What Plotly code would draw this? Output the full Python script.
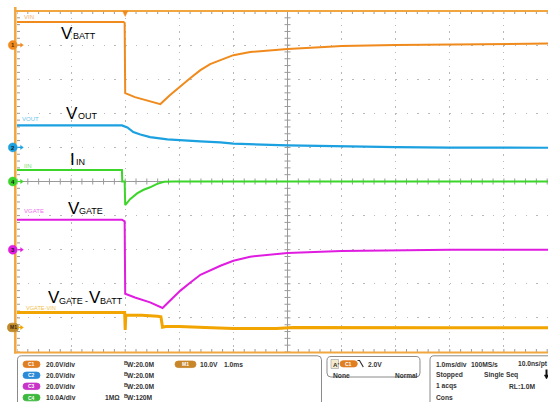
import plotly.graph_objects as go

# ---------------- data read from the capture ----------------
# time in ms relative to the trigger (1.0 ms/div)
t_vbatt = [-2.0, -0.03, -0.01, 0.0, 0.18, 0.41, 0.65, 0.83, 1.02, 1.2, 1.39, 1.57, 1.76, 2.0, 2.31, 2.68, 3.0, 3.6, 4.0, 5.0, 6.0, 7.0, 7.85]
v_vbatt = [13.5, 13.5, 13.0, -28.2, -30.5, -32.6, -34.6, -29.3, -24.0, -19.4, -14.7, -11.1, -8.8, -5.9, -4.1, -2.9, -2.3, -1.2, -0.6, 0.0, 0.4, 0.6, 0.9]

t_vout = [-2.0, -0.06, 0.04, 0.15, 0.28, 0.46, 0.78, 1.02, 1.39, 1.76, 2.0, 3.0, 4.0, 5.0, 6.0, 7.85]
v_vout = [12.9, 12.9, 11.7, 9.0, 7.6, 6.0, 4.7, 4.1, 3.5, 2.9, 2.2, 1.2, 0.6, 0.2, -0.1, -0.2]

t_iin = [-2.0, -0.06, -0.055, -0.01, 0.0, 0.09, 0.22, 0.33, 0.46, 0.59, 0.72, 0.9, 7.85]
i_iin = [3.4, 3.4, 0.0, 0.0, -6.9, -5.2, -3.5, -2.5, -1.7, -0.7, -0.1, 0.0, 0.0]

t_vgate = [-2.0, -0.06, -0.01, 0.0, 0.18, 0.46, 0.69, 0.83, 1.02, 1.2, 1.39, 1.76, 2.0, 2.31, 3.0, 4.0, 5.0, 6.0, 7.85]
v_vgate = [17.6, 17.6, 16.6, -25.8, -28.0, -30.9, -34.2, -29.9, -24.0, -19.4, -14.7, -9.4, -6.5, -4.1, -1.9, -0.8, -0.2, 0.0, 0.0]

t_m1 = [-2.0, -0.01, 0.0, 0.01, 0.03, 0.3, 0.6, 0.66, 0.69, 0.75, 1.0, 1.3, 1.6, 2.0, 2.4, 2.8, 3.1, 4.0, 5.0, 6.0, 7.85]
v_m1 = [4.4, 4.4, -0.7, 3.4, 3.6, 3.6, 3.3, 3.1, 0.1, 0.3, 0.3, 0.2, -0.1, -0.3, -0.35, -0.3, -0.05, 0.0, 0.0, -0.1, -0.1]

# trace labels: list of (main letter, subscript) parts
trace_labels = [[("V", "BATT")], [("V", "OUT")], [("I", "IN")], [("V", "GATE")],
                [("V", "GATE"), ("", "-"), ("V", "BATT")]]
small_labels = ["VIN", "VOUT", "IIN", "VGATE", "VGATE-VIN"]
marker_labels = ["1", "2", "4", "3", "M1"]

# ---------------- geometry / styles ----------------
W, H = 548, 402
L, T, B = 17, 11, 352
PW, PH = W - L, B - T
DIVX = 54.1
DIVY = PH / 10.0
T_LEFT = -2.0
T_RIGHT = T_LEFT + PW / DIVX


def px(x):
    return (x - L) / PW


def py(y):
    return (B - y) / PH


# (time, values, units/div, ground position in divisions, colour, line width)
channels = [
    (t_vbatt, v_vbatt, 20.0, 4.0, "#F08A1C", 2.0),
    (t_vout, v_vout, 20.0, 1.0, "#1BA0E0", 2.2),
    (t_iin, i_iin, 10.0, 0.0, "#3CD62A", 2.0),
    (t_vgate, v_vgate, 20.0, -2.0, "#E01CE0", 2.0),
    (t_m1, v_m1, 10.0, -4.28, "#F2A400", 3.0),
]
light_cols = ["#F2B070", "#6CC4EC", "#7EE070", "#EE70EE", "#F2C24A"]
badge_cols = ["#E08A2A", "#2A9CDC", "#38C030", "#D02CD0", "#C08A2A"]
# per label: baseline, list of x positions (main glyph left, subscript left) per part
label_geo = [
    (39.3, [(60, 72)]),
    (119.3, [(65, 76.5)]),
    (165.7, [(69, 75)]),
    (214.3, [(66.5, 78)]),
    (304.0, [(46.5, 58.3), (None, 83.5), (87.5, 98.8)]),
]
small_pos = [(22, 17, 6), (20, 118.5, 6), (22, 165.5, 6), (22, 211, 6), (23.5, 307.6, 5.6)]

fig = go.Figure()

# graticule: centre lines and minor ticks
gx, gy = [], []
xc = T_LEFT + 5
gx += [xc, xc, None]; gy += [-5, 5, None]
gx += [T_LEFT, T_RIGHT, None]; gy += [0, 0, None]
tlx = 3.0 / DIVX
tly = 3.0 / DIVY
k = 0
while True:
    x = T_LEFT + k * 0.2
    if x > T_RIGHT:
        break
    gx += [x, x, None, x, x, None, x, x, None]
    gy += [5, 5 - tly, None, -5, -5 + tly, None, -tly, tly, None]
    k += 1
for k in range(51):
    y = -5 + k * 0.2
    gx += [T_LEFT, T_LEFT + tlx, None, xc - tlx, xc + tlx, None]
    gy += [y, y, None, y, y, None]
fig.add_trace(go.Scatter(x=gx, y=gy, mode="lines", line=dict(color="#9a9a9a", width=1),
                         hoverinfo="skip", showlegend=False, cliponaxis=False))

layout_axes = {}
for i, (tt, vv, sc, g, col, lw) in enumerate(channels):
    name = "y%d" % (i + 2)
    fig.add_trace(go.Scatter(x=tt, y=vv, yaxis=name, mode="lines",
                             line=dict(color=col, width=lw), hoverinfo="skip",
                             showlegend=False))
    layout_axes["yaxis%d" % (i + 2)] = dict(overlaying="y", range=[(-5 - g) * sc, (5 - g) * sc],
                                            visible=False, fixedrange=True)

shapes = []
ann = []

SANS = "Liberation Sans, Arial, sans-serif"
PF = 6.7  # panel font size


def note(x, y, text, size=PF, color="#333333", bold=True, anchor="left", family=SANS):
    ann.append(dict(x=px(x), y=py(y), xref="paper", yref="paper", text=("<b>%s</b>" % text) if bold else text,
                    showarrow=False, xanchor=anchor, yanchor="middle",
                    font=dict(size=size, color=color, family=family)))


def pill(x0, x1, yc, h, color, line=None):
    r = h / 2.0
    y0, y1 = yc - r, yc + r
    p = ("M {a},{b} L {c},{b} Q {d},{b} {d},{e} Q {d},{f} {c},{f} L {a},{f} Q {g},{f} {g},{e} Q {g},{b} {a},{b} Z"
         .format(a=px(x0 + r), b=py(y0), c=px(x1 - r), d=px(x1), e=py(yc), f=py(y1), g=px(x0)))
    shapes.append(dict(type="path", xref="paper", yref="paper", path=p, fillcolor=color,
                       line=dict(color=line or color, width=0.8)))


def rounded(x0, x1, y0, y1, r, color="#8a8a8a", open_bottom=False, open_right=False):
    parts = []
    if open_bottom:
        parts.append("M %f,%f" % (px(x0), py(y1)))
    else:
        parts.append("M %f,%f" % (px(x0), py(y1 - r)))
    parts.append("L %f,%f" % (px(x0), py(y0 + r)))
    parts.append("Q %f,%f %f,%f" % (px(x0), py(y0), px(x0 + r), py(y0)))
    if open_right:
        parts.append("L %f,%f" % (px(x1), py(y0)))
    else:
        parts.append("L %f,%f" % (px(x1 - r), py(y0)))
        parts.append("Q %f,%f %f,%f" % (px(x1), py(y0), px(x1), py(y0 + r)))
        if open_bottom:
            parts.append("L %f,%f" % (px(x1), py(y1)))
        else:
            parts.append("L %f,%f" % (px(x1), py(y1 - r)))
            parts.append("Q %f,%f %f,%f" % (px(x1), py(y1), px(x1 - r), py(y1)))
            parts.append("L %f,%f" % (px(x0 + r), py(y1)))
            parts.append("Q %f,%f %f,%f Z" % (px(x0), py(y1), px(x0), py(y1 - r)))
    shapes.append(dict(type="path", xref="paper", yref="paper", path=" ".join(parts),
                       line=dict(color=color, width=1)))


# frame borders (orange, selected channel)
BORDER = "#F2A640"
shapes.append(dict(type="line", xref="paper", yref="paper", x0=px(15.3), x1=px(15.3), y0=py(7), y1=py(353.5),
                   line=dict(color=BORDER, width=2.5)))
shapes.append(dict(type="line", xref="paper", yref="paper", x0=px(14), x1=px(552), y0=py(11), y1=py(11),
                   line=dict(color=BORDER, width=2)))
shapes.append(dict(type="line", xref="paper", yref="paper", x0=px(14), x1=px(552), y0=py(352.6), y1=py(352.6),
                   line=dict(color=BORDER, width=2)))
# trigger position marker (t = 0)
shapes.append(dict(type="path", xref="x", yref="paper",
                   path="M %f,%f L %f,%f L %f,%f Z" % (-2.6 / DIVX, py(11), 2.6 / DIVX, py(11), 0, py(16.5)),
                   fillcolor="#F08A1C", line=dict(color="#F08A1C", width=0.5)))

BIG, SUB = 17, 9.0
for i, (tt, vv, sc, g, col, lw) in enumerate(channels):
    yc = B - (g + 5) * DIVY
    if marker_labels[i] == "M1":
        pill(7.5, 18.5, yc, 8.5, badge_cols[i])
        note(13, yc, "M1", size=5, color="#3a2a10", anchor="center")
    else:
        shapes.append(dict(type="circle", xref="paper", yref="paper", x0=px(8.3), x1=px(17.3),
                           y0=py(yc + 4.5), y1=py(yc - 4.5), fillcolor=col, line=dict(color=col, width=0.5)))
        note(12.8, yc + 0.2, marker_labels[i], size=6, color="#5a3000" if i == 0 else "#1a1a1a", anchor="center")
    shapes.append(dict(type="line", xref="paper", yref="paper", x0=px(18), x1=px(21), y0=py(yc), y1=py(yc),
                       line=dict(color=col, width=1.2)))
    shapes.append(dict(type="path", xref="paper", yref="paper",
                       path="M %f,%f L %f,%f L %f,%f Z" % (px(20.5), py(yc - 2.2), px(23.5), py(yc), px(20.5), py(yc + 2.2)),
                       fillcolor=col, line=dict(color=col, width=0.3)))
    base, xs = label_geo[i]
    for (mainx, subx), (mtxt, stxt) in zip(xs, trace_labels[i]):
        if mtxt:
            note(mainx - 1, base - 0.358 * BIG, mtxt, size=BIG, color="#000000", bold=False)
        note(subx - 1, base - 0.358 * SUB, stxt, size=SUB, color="#000000", bold=False)
    sx, sy, ss = small_pos[i]
    note(sx, sy, small_labels[i], size=ss, color=light_cols[i], bold=False)

# ---------------- bottom information panel ----------------
rounded(17.5, 321.5, 355.8, 410, 4, open_bottom=True)
rounded(327, 420, 356.5, 377, 4)
rounded(430, 560, 355.8, 410, 4, open_bottom=True, open_right=True)

rows = [364.3, 375.3, 386.3, 397.6]
ch_names = ["C1", "C2", "C3", "C4"]
ch_badge = ["#E07E22", "#2A8AD8", "#C834C8", "#3CB83C"]
ch_scale = ["20.0V/div", "20.0V/div", "20.0V/div", "10.0A/div"]
ch_bw = ["20.0M", "20.0M", "20.0M", "120M"]
for r, nm, bc, s, bw in zip(rows, ch_names, ch_badge, ch_scale, ch_bw):
    pill(23, 40, r, 6.5, bc)
    note(31.5, r, nm, size=5, color="#ffffff", anchor="center")
    note(43.5, r, s)
    note(121.5, r - 1.6, "B", size=5)
    note(124.5, r + 0.4, "W:" + bw)
note(102.5, rows[3], "1MΩ")
pill(175, 196, rows[0], 6.5, "#C8862A")
note(185.5, rows[0], "M1", size=5, color="#ffffff", anchor="center")
note(198, rows[0], "10.0V")
note(222, rows[0], "1.0ms")

# trigger box
shapes.append(dict(type="rect", xref="paper", yref="paper", x0=px(331), x1=px(338.5), y0=py(359.5), y1=py(368.5),
                   fillcolor="#F4EBCF", line=dict(color="#9a9a9a", width=0.6)))
note(331.2, rows[0], "A'", size=6.2)
pill(340, 357.3, rows[0] - 0.5, 6.2, "#E07E22")
note(348.6, rows[0] - 0.5, "C1", size=5, color="#ffffff", anchor="center")
shapes.append(dict(type="path", xref="paper", yref="paper",
                   path="M %f,%f L %f,%f L %f,%f" % (px(357.5), py(360.5), px(359.5), py(360.5), px(363.3), py(367)),
                   line=dict(color="#333333", width=1.2)))
note(365.7, rows[0], "2.0V")
note(331.3, rows[1] - 0.3, "None")
note(393, rows[1] - 0.3, "Normal", size=6.5)

# acquisition box
note(434, rows[0], "1.0ms/div")
note(469, rows[0], "100MS/s")
note(515.7, rows[0], "10.0ns/pt")
note(434, rows[1], "Stopped")
note(482.3, rows[1], "Single Seq")
# single-sequence arrow icon
shapes.append(dict(type="line", xref="paper", yref="paper", x0=px(546.5), x1=px(546.5), y0=py(369.5), y1=py(375.5),
                   line=dict(color="#111111", width=2)))
shapes.append(dict(type="path", xref="paper", yref="paper",
                   path="M %f,%f L %f,%f L %f,%f Z" % (px(544.3), py(375), px(548.7), py(375), px(546.5), py(379)),
                   fillcolor="#111111", line=dict(color="#111111", width=0.5)))
note(434, rows[2], "1 acqs")
note(507, rows[2], "RL:1.0M")
note(434, rows[3], "Cons")

fig.update_layout(
    width=W, height=H, autosize=False,
    margin=dict(l=L, r=0, t=T, b=H - B, pad=0),
    paper_bgcolor="#ffffff", plot_bgcolor="#ffffff",
    showlegend=False,
    xaxis=dict(range=[T_LEFT, T_RIGHT], showgrid=True, dtick=1, tick0=0, gridcolor="#b8b8b8",
               gridwidth=1, griddash="1.4px,5.42px", zeroline=False, showticklabels=False,
               ticks="", showline=False, fixedrange=True),
    yaxis=dict(range=[-5, 5], showgrid=True, dtick=1, tick0=0, gridcolor="#b8b8b8",
               gridwidth=1, griddash="1.4px,9.42px", zeroline=False, showticklabels=False,
               ticks="", showline=False, fixedrange=True),
    shapes=shapes, annotations=ann,
    **layout_axes,
)

fig.write_html("out.html", config={"displayModeBar": False, "staticPlot": True},
               post_script="document.body.style.margin='0px';document.body.style.padding='0px';document.body.style.overflow='hidden';")
